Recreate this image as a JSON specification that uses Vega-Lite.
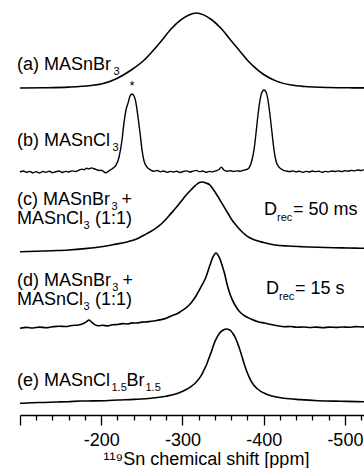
{
"$schema": "https://vega.github.io/schema/vega-lite/v6.json",
"padding": {"left": 16, "top": 0, "right": 0, "bottom": 0},
"spacing": 0,
"bounds": "flush",
"config": {"view": {"stroke": null}, "axis": {"grid": false}, "font": "Liberation Sans"},
"datasets": {
"spectra": [
{"series":"a","ppm":-100,"v":0},{"series":"a","ppm":-130,"v":0.003},{"series":"a","ppm":-160,"v":0.012},{"series":"a","ppm":-187,"v":0.033},{"series":"a","ppm":-200,"v":0.053},{"series":"a","ppm":-218,"v":0.12},{"series":"a","ppm":-237,"v":0.24},{"series":"a","ppm":-253,"v":0.373},{"series":"a","ppm":-264,"v":0.5},{"series":"a","ppm":-274,"v":0.627},{"series":"a","ppm":-286,"v":0.787},{"series":"a","ppm":-298,"v":0.907},{"series":"a","ppm":-308,"v":0.973},{"series":"a","ppm":-317,"v":1.0},{"series":"a","ppm":-326,"v":0.975},{"series":"a","ppm":-336,"v":0.91},{"series":"a","ppm":-348,"v":0.79},{"series":"a","ppm":-360,"v":0.63},{"series":"a","ppm":-370,"v":0.5},{"series":"a","ppm":-380,"v":0.37},{"series":"a","ppm":-390,"v":0.265},{"series":"a","ppm":-400,"v":0.18},{"series":"a","ppm":-415,"v":0.095},{"series":"a","ppm":-434,"v":0.04},{"series":"a","ppm":-450,"v":0.02},{"series":"a","ppm":-480,"v":0.006},{"series":"a","ppm":-510,"v":0.002},{"series":"a","ppm":-558,"v":0},
{"series":"b","ppm":-100,"v":0.0},{"series":"b","ppm":-104,"v":0.012},{"series":"b","ppm":-108,"v":-0.005},{"series":"b","ppm":-112,"v":0.008},{"series":"b","ppm":-116,"v":-0.01},{"series":"b","ppm":-120,"v":0.004},{"series":"b","ppm":-124,"v":-0.012},{"series":"b","ppm":-128,"v":0.006},{"series":"b","ppm":-132,"v":-0.004},{"series":"b","ppm":-136,"v":0.01},{"series":"b","ppm":-140,"v":-0.008},{"series":"b","ppm":-144,"v":0.003},{"series":"b","ppm":-148,"v":0.012},{"series":"b","ppm":-152,"v":-0.006},{"series":"b","ppm":-156,"v":0.008},{"series":"b","ppm":-160,"v":0.0},{"series":"b","ppm":-164,"v":0.014},{"series":"b","ppm":-168,"v":0.006},{"series":"b","ppm":-172,"v":0.02},{"series":"b","ppm":-176,"v":0.035},{"series":"b","ppm":-179,"v":0.028},{"series":"b","ppm":-182,"v":0.045},{"series":"b","ppm":-185,"v":0.038},{"series":"b","ppm":-188,"v":0.05},{"series":"b","ppm":-191,"v":0.04},{"series":"b","ppm":-194,"v":0.03},{"series":"b","ppm":-197,"v":0.018},{"series":"b","ppm":-200,"v":0.022},{"series":"b","ppm":-203,"v":0.005},{"series":"b","ppm":-206,"v":-0.01},{"series":"b","ppm":-209,"v":0.01},{"series":"b","ppm":-212,"v":0.03},{"series":"b","ppm":-215,"v":0.05},{"series":"b","ppm":-218,"v":0.08},{"series":"b","ppm":-221.9,"v":0.18},{"series":"b","ppm":-225.6,"v":0.39},{"series":"b","ppm":-228,"v":0.6},{"series":"b","ppm":-230.5,"v":0.756},{"series":"b","ppm":-233,"v":0.84},{"series":"b","ppm":-235.5,"v":0.927},{"series":"b","ppm":-237.9,"v":0.951},{"series":"b","ppm":-240.4,"v":0.927},{"series":"b","ppm":-242.9,"v":0.835},{"series":"b","ppm":-245.3,"v":0.67},{"series":"b","ppm":-247.8,"v":0.476},{"series":"b","ppm":-250.2,"v":0.27},{"series":"b","ppm":-252.7,"v":0.134},{"series":"b","ppm":-256.4,"v":0.06},{"series":"b","ppm":-261,"v":0.024},{"series":"b","ppm":-265,"v":0.01},{"series":"b","ppm":-269,"v":0.018},{"series":"b","ppm":-273,"v":0.002},{"series":"b","ppm":-277,"v":0.012},{"series":"b","ppm":-281,"v":-0.004},{"series":"b","ppm":-285,"v":0.008},{"series":"b","ppm":-289,"v":0.0},{"series":"b","ppm":-293,"v":0.01},{"series":"b","ppm":-297,"v":-0.006},{"series":"b","ppm":-301,"v":0.006},{"series":"b","ppm":-305,"v":0.014},{"series":"b","ppm":-309,"v":0.0},{"series":"b","ppm":-313,"v":0.01},{"series":"b","ppm":-317,"v":0.02},{"series":"b","ppm":-321,"v":0.004},{"series":"b","ppm":-325,"v":0.012},{"series":"b","ppm":-329,"v":-0.004},{"series":"b","ppm":-333,"v":0.008},{"series":"b","ppm":-337,"v":0.002},{"series":"b","ppm":-341,"v":0.014},{"series":"b","ppm":-345,"v":0.03},{"series":"b","ppm":-348,"v":0.06},{"series":"b","ppm":-351,"v":0.025},{"series":"b","ppm":-355,"v":0.01},{"series":"b","ppm":-359,"v":0.016},{"series":"b","ppm":-363,"v":0.006},{"series":"b","ppm":-367,"v":0.014},{"series":"b","ppm":-371,"v":0.01},{"series":"b","ppm":-374,"v":0.018},{"series":"b","ppm":-377,"v":0.025},{"series":"b","ppm":-381.9,"v":0.05},{"series":"b","ppm":-385.6,"v":0.146},{"series":"b","ppm":-388.1,"v":0.27},{"series":"b","ppm":-390.6,"v":0.476},{"series":"b","ppm":-393,"v":0.695},{"series":"b","ppm":-395.5,"v":0.878},{"series":"b","ppm":-398,"v":0.976},{"series":"b","ppm":-400.4,"v":1.0},{"series":"b","ppm":-402.9,"v":0.976},{"series":"b","ppm":-405.3,"v":0.878},{"series":"b","ppm":-407.8,"v":0.695},{"series":"b","ppm":-410.3,"v":0.476},{"series":"b","ppm":-412.7,"v":0.27},{"series":"b","ppm":-415.2,"v":0.134},{"series":"b","ppm":-418.9,"v":0.06},{"series":"b","ppm":-423.8,"v":0.024},{"series":"b","ppm":-428,"v":0.012},{"series":"b","ppm":-432,"v":0.004},{"series":"b","ppm":-436,"v":0.014},{"series":"b","ppm":-440,"v":0.002},{"series":"b","ppm":-444,"v":0.01},{"series":"b","ppm":-448,"v":-0.004},{"series":"b","ppm":-452,"v":0.008},{"series":"b","ppm":-456,"v":0.0},{"series":"b","ppm":-460,"v":0.012},{"series":"b","ppm":-464,"v":0.004},{"series":"b","ppm":-468,"v":0.01},{"series":"b","ppm":-472,"v":-0.004},{"series":"b","ppm":-476,"v":0.008},{"series":"b","ppm":-480,"v":0.002},{"series":"b","ppm":-484,"v":0.012},{"series":"b","ppm":-488,"v":0.006},{"series":"b","ppm":-492,"v":0.014},{"series":"b","ppm":-496,"v":0.004},{"series":"b","ppm":-500,"v":0.016},{"series":"b","ppm":-504,"v":0.01},{"series":"b","ppm":-508,"v":0.02},{"series":"b","ppm":-512,"v":0.014},{"series":"b","ppm":-516,"v":0.024},{"series":"b","ppm":-520,"v":0.018},{"series":"b","ppm":-524,"v":0.026},{"series":"b","ppm":-530,"v":0.02},{"series":"b","ppm":-540,"v":0.024},{"series":"b","ppm":-558,"v":0.02},
{"series":"c","ppm":-100,"v":-0.025},{"series":"c","ppm":-120,"v":-0.018},{"series":"c","ppm":-140,"v":-0.01},{"series":"c","ppm":-160,"v":0.0},{"series":"c","ppm":-180,"v":0.02},{"series":"c","ppm":-200,"v":0.049},{"series":"c","ppm":-215,"v":0.08},{"series":"c","ppm":-233,"v":0.122},{"series":"c","ppm":-245,"v":0.17},{"series":"c","ppm":-253,"v":0.221},{"series":"c","ppm":-262,"v":0.28},{"series":"c","ppm":-270,"v":0.343},{"series":"c","ppm":-278,"v":0.43},{"series":"c","ppm":-286,"v":0.539},{"series":"c","ppm":-292,"v":0.62},{"series":"c","ppm":-298,"v":0.71},{"series":"c","ppm":-304,"v":0.8},{"series":"c","ppm":-310.5,"v":0.882},{"series":"c","ppm":-315,"v":0.94},{"series":"c","ppm":-319.2,"v":0.98},{"series":"c","ppm":-322,"v":0.996},{"series":"c","ppm":-325.3,"v":1.0},{"series":"c","ppm":-329,"v":0.985},{"series":"c","ppm":-333.9,"v":0.956},{"series":"c","ppm":-338,"v":0.89},{"series":"c","ppm":-342.5,"v":0.809},{"series":"c","ppm":-347,"v":0.72},{"series":"c","ppm":-351.1,"v":0.637},{"series":"c","ppm":-356,"v":0.54},{"series":"c","ppm":-361,"v":0.441},{"series":"c","ppm":-367,"v":0.35},{"series":"c","ppm":-373.3,"v":0.269},{"series":"c","ppm":-380,"v":0.2},{"series":"c","ppm":-389.3,"v":0.147},{"series":"c","ppm":-400,"v":0.11},{"series":"c","ppm":-413.9,"v":0.074},{"series":"c","ppm":-430,"v":0.058},{"series":"c","ppm":-446,"v":0.049},{"series":"c","ppm":-466,"v":0.04},{"series":"c","ppm":-486.6,"v":0.034},{"series":"c","ppm":-505,"v":0.03},{"series":"c","ppm":-525,"v":0.025},{"series":"c","ppm":-558,"v":0.025},
{"series":"d","ppm":-100,"v":-0.004},{"series":"d","ppm":-108,"v":0.008},{"series":"d","ppm":-116,"v":0.0},{"series":"d","ppm":-124,"v":0.012},{"series":"d","ppm":-132,"v":0.004},{"series":"d","ppm":-140,"v":0.016},{"series":"d","ppm":-148,"v":0.024},{"series":"d","ppm":-156,"v":0.02},{"series":"d","ppm":-164,"v":0.034},{"series":"d","ppm":-172,"v":0.04},{"series":"d","ppm":-178,"v":0.06},{"series":"d","ppm":-182,"v":0.085},{"series":"d","ppm":-185,"v":0.107},{"series":"d","ppm":-188,"v":0.08},{"series":"d","ppm":-192,"v":0.045},{"series":"d","ppm":-197,"v":0.03},{"series":"d","ppm":-202,"v":0.036},{"series":"d","ppm":-208,"v":0.028},{"series":"d","ppm":-214,"v":0.044},{"series":"d","ppm":-220,"v":0.046},{"series":"d","ppm":-226,"v":0.058},{"series":"d","ppm":-232,"v":0.054},{"series":"d","ppm":-238,"v":0.068},{"series":"d","ppm":-244,"v":0.066},{"series":"d","ppm":-250,"v":0.078},{"series":"d","ppm":-256,"v":0.082},{"series":"d","ppm":-262,"v":0.09},{"series":"d","ppm":-268,"v":0.1},{"series":"d","ppm":-274,"v":0.112},{"series":"d","ppm":-280,"v":0.13},{"series":"d","ppm":-286,"v":0.16},{"series":"d","ppm":-291,"v":0.18},{"series":"d","ppm":-295,"v":0.2},{"series":"d","ppm":-300,"v":0.235},{"series":"d","ppm":-304.4,"v":0.267},{"series":"d","ppm":-310.5,"v":0.333},{"series":"d","ppm":-316.7,"v":0.427},{"series":"d","ppm":-322.9,"v":0.547},{"series":"d","ppm":-329,"v":0.68},{"series":"d","ppm":-333.9,"v":0.84},{"series":"d","ppm":-337.6,"v":0.947},{"series":"d","ppm":-341.3,"v":1.0},{"series":"d","ppm":-345,"v":0.947},{"series":"d","ppm":-348.7,"v":0.84},{"series":"d","ppm":-352,"v":0.72},{"series":"d","ppm":-355,"v":0.58},{"series":"d","ppm":-358,"v":0.47},{"series":"d","ppm":-361,"v":0.385},{"series":"d","ppm":-364,"v":0.32},{"series":"d","ppm":-368,"v":0.25},{"series":"d","ppm":-372,"v":0.2},{"series":"d","ppm":-377,"v":0.16},{"series":"d","ppm":-384.4,"v":0.12},{"series":"d","ppm":-393,"v":0.084},{"series":"d","ppm":-401,"v":0.066},{"series":"d","ppm":-409,"v":0.047},{"series":"d","ppm":-417,"v":0.03},{"series":"d","ppm":-425,"v":0.017},{"series":"d","ppm":-433,"v":0.02},{"series":"d","ppm":-441,"v":0.01},{"series":"d","ppm":-449,"v":0.014},{"series":"d","ppm":-457,"v":0.006},{"series":"d","ppm":-465,"v":0.012},{"series":"d","ppm":-473,"v":0.004},{"series":"d","ppm":-481,"v":0.012},{"series":"d","ppm":-489,"v":0.008},{"series":"d","ppm":-497,"v":0.014},{"series":"d","ppm":-505,"v":0.01},{"series":"d","ppm":-513,"v":0.018},{"series":"d","ppm":-521,"v":0.014},{"series":"d","ppm":-530,"v":0.018},{"series":"d","ppm":-558,"v":0.017},
{"series":"e","ppm":-100,"v":-0.018},{"series":"e","ppm":-115,"v":-0.01},{"series":"e","ppm":-130,"v":-0.006},{"series":"e","ppm":-145,"v":0.0},{"series":"e","ppm":-159,"v":0.004},{"series":"e","ppm":-175,"v":0.014},{"series":"e","ppm":-190,"v":0.015},{"series":"e","ppm":-205,"v":0.018},{"series":"e","ppm":-220.7,"v":0.027},{"series":"e","ppm":-240,"v":0.036},{"series":"e","ppm":-261.3,"v":0.051},{"series":"e","ppm":-280,"v":0.08},{"series":"e","ppm":-294.5,"v":0.119},{"series":"e","ppm":-303,"v":0.16},{"series":"e","ppm":-310.5,"v":0.21},{"series":"e","ppm":-315,"v":0.25},{"series":"e","ppm":-319.2,"v":0.3},{"series":"e","ppm":-323,"v":0.36},{"series":"e","ppm":-326.5,"v":0.438},{"series":"e","ppm":-330,"v":0.52},{"series":"e","ppm":-332.7,"v":0.603},{"series":"e","ppm":-336,"v":0.7},{"series":"e","ppm":-338.8,"v":0.795},{"series":"e","ppm":-342,"v":0.875},{"series":"e","ppm":-345,"v":0.932},{"series":"e","ppm":-347.5,"v":0.965},{"series":"e","ppm":-349.9,"v":0.982},{"series":"e","ppm":-352.5,"v":0.996},{"series":"e","ppm":-354.9,"v":1.0},{"series":"e","ppm":-357.5,"v":0.99},{"series":"e","ppm":-359.8,"v":0.973},{"series":"e","ppm":-362,"v":0.94},{"series":"e","ppm":-364.7,"v":0.89},{"series":"e","ppm":-367,"v":0.83},{"series":"e","ppm":-369.6,"v":0.753},{"series":"e","ppm":-372,"v":0.67},{"series":"e","ppm":-374.6,"v":0.575},{"series":"e","ppm":-377,"v":0.49},{"series":"e","ppm":-379.5,"v":0.411},{"series":"e","ppm":-382,"v":0.345},{"series":"e","ppm":-384.4,"v":0.288},{"series":"e","ppm":-388,"v":0.23},{"series":"e","ppm":-391.8,"v":0.185},{"series":"e","ppm":-396,"v":0.15},{"series":"e","ppm":-400.4,"v":0.123},{"series":"e","ppm":-406,"v":0.097},{"series":"e","ppm":-412.7,"v":0.075},{"series":"e","ppm":-425,"v":0.051},{"series":"e","ppm":-445,"v":0.032},{"series":"e","ppm":-466.9,"v":0.018},{"series":"e","ppm":-495,"v":0.01},{"series":"e","ppm":-524.8,"v":0.004},{"series":"e","ppm":-558,"v":0.004}
],
"labels": [
{"panel":"a","kind":"main","x":-96.3,"y":0.24,"text":"(a) MASnBr"},
{"panel":"a","kind":"sub","x":-215.2,"y":0.173,"text":"3"},
{"panel":"b","kind":"main","x":-96.3,"y":0.317,"text":"(b) MASnCl"},
{"panel":"b","kind":"sub","x":-214.0,"y":0.256,"text":"3"},
{"panel":"b","kind":"star","x":-237.9,"y":1.0,"text":"*"},
{"panel":"c","kind":"main","x":-96.3,"y":0.662,"text":"(c) MASnBr"},
{"panel":"c","kind":"sub","x":-212.6,"y":0.588,"text":"3"},
{"panel":"c","kind":"main","x":-225.0,"y":0.662,"text":"+"},
{"panel":"c","kind":"main","x":-96.3,"y":0.382,"text":"MASnCl"},
{"panel":"c","kind":"sub","x":-178.2,"y":0.309,"text":"3"},
{"panel":"c","kind":"main","x":-192.3,"y":0.382,"text":"(1:1)"},
{"panel":"c","kind":"main","x":-400.4,"y":0.515,"text":"D"},
{"panel":"c","kind":"sub","x":-416.4,"y":0.426,"text":"rec"},
{"panel":"c","kind":"main","x":-436.1,"y":0.515,"text":"= 50 ms"},
{"panel":"d","kind":"main","x":-96.3,"y":0.56,"text":"(d) MASnBr"},
{"panel":"d","kind":"sub","x":-213.6,"y":0.493,"text":"3"},
{"panel":"d","kind":"main","x":-226.2,"y":0.56,"text":"+"},
{"panel":"d","kind":"main","x":-96.3,"y":0.307,"text":"MASnCl"},
{"panel":"d","kind":"sub","x":-178.2,"y":0.24,"text":"3"},
{"panel":"d","kind":"main","x":-192.3,"y":0.307,"text":"(1:1)"},
{"panel":"d","kind":"main","x":-402.9,"y":0.453,"text":"D"},
{"panel":"d","kind":"sub","x":-418.9,"y":0.373,"text":"rec"},
{"panel":"d","kind":"main","x":-438.6,"y":0.453,"text":"= 15 s"},
{"panel":"e","kind":"main","x":-96.3,"y":0.219,"text":"(e) MASnCl"},
{"panel":"e","kind":"sub","x":-212.6,"y":0.151,"text":"1.5"},
{"panel":"e","kind":"main","x":-231.1,"y":0.219,"text":"Br"},
{"panel":"e","kind":"sub","x":-254.5,"y":0.151,"text":"1.5"}
]
},
"vconcat": [
{"width":372,"height":90,"layer":[
 {"data":{"name":"spectra"},"transform":[{"filter":"datum.series=='a'"}],"mark":{"type":"line","color":"#000","strokeWidth":1.6,"interpolate":"monotone"},
  "encoding":{"x":{"field":"ppm","type":"quantitative","scale":{"domain":[-100,-558],"nice":false,"zero":false},"axis":null},"y":{"field":"v","type":"quantitative","scale":{"domain":[-0.0267,1.1733],"nice":false,"zero":false},"axis":null}}},
 {"data":{"name":"labels"},"transform":[{"filter":"datum.panel=='a' && datum.kind=='main'"}],"mark":{"type":"text","align":"left","baseline":"alphabetic","fontSize":18,"font":"Liberation Sans","color":"#000"},
  "encoding":{"x":{"field":"x","type":"quantitative","scale":{"domain":[-100,-558],"nice":false,"zero":false},"axis":null},"y":{"field":"y","type":"quantitative","scale":{"domain":[-0.0267,1.1733],"nice":false,"zero":false},"axis":null},"text":{"field":"text"}}},
 {"data":{"name":"labels"},"transform":[{"filter":"datum.panel=='a' && datum.kind=='sub'"}],"mark":{"type":"text","align":"left","baseline":"alphabetic","fontSize":11,"font":"Liberation Sans","color":"#000"},
  "encoding":{"x":{"field":"x","type":"quantitative","scale":{"domain":[-100,-558],"nice":false,"zero":false},"axis":null},"y":{"field":"y","type":"quantitative","scale":{"domain":[-0.0267,1.1733],"nice":false,"zero":false},"axis":null},"text":{"field":"text"}}}
]},
{"width":372,"height":84,"layer":[
 {"data":{"name":"spectra"},"transform":[{"filter":"datum.series=='b'"}],"mark":{"type":"line","color":"#000","strokeWidth":1.4,"interpolate":"monotone"},
  "encoding":{"x":{"field":"ppm","type":"quantitative","scale":{"domain":[-100,-558],"nice":false,"zero":false},"axis":null},"y":{"field":"v","type":"quantitative","scale":{"domain":[-0.0244,1.0],"nice":false,"zero":false},"axis":null}}},
 {"data":{"name":"labels"},"transform":[{"filter":"datum.panel=='b' && datum.kind=='main'"}],"mark":{"type":"text","align":"left","baseline":"alphabetic","fontSize":18,"font":"Liberation Sans","color":"#000"},
  "encoding":{"x":{"field":"x","type":"quantitative","scale":{"domain":[-100,-558],"nice":false,"zero":false},"axis":null},"y":{"field":"y","type":"quantitative","scale":{"domain":[-0.0244,1.0],"nice":false,"zero":false},"axis":null},"text":{"field":"text"}}},
 {"data":{"name":"labels"},"transform":[{"filter":"datum.panel=='b' && datum.kind=='sub'"}],"mark":{"type":"text","align":"left","baseline":"alphabetic","fontSize":11,"font":"Liberation Sans","color":"#000"},
  "encoding":{"x":{"field":"x","type":"quantitative","scale":{"domain":[-100,-558],"nice":false,"zero":false},"axis":null},"y":{"field":"y","type":"quantitative","scale":{"domain":[-0.0244,1.0],"nice":false,"zero":false},"axis":null},"text":{"field":"text"}}},
 {"data":{"name":"labels"},"transform":[{"filter":"datum.panel=='b' && datum.kind=='star'"}],"mark":{"type":"text","align":"center","baseline":"alphabetic","fontSize":13,"font":"Liberation Sans","color":"#000"},
  "encoding":{"x":{"field":"x","type":"quantitative","scale":{"domain":[-100,-558],"nice":false,"zero":false},"axis":null},"y":{"field":"y","type":"quantitative","scale":{"domain":[-0.0244,1.0],"nice":false,"zero":false},"axis":null},"text":{"field":"text"}}}
]},
{"width":372,"height":78,"layer":[
 {"data":{"name":"spectra"},"transform":[{"filter":"datum.series=='c'"}],"mark":{"type":"line","color":"#000","strokeWidth":1.6,"interpolate":"monotone"},
  "encoding":{"x":{"field":"ppm","type":"quantitative","scale":{"domain":[-100,-558],"nice":false,"zero":false},"axis":null},"y":{"field":"v","type":"quantitative","scale":{"domain":[-0.0294,1.1176],"nice":false,"zero":false},"axis":null}}},
 {"data":{"name":"labels"},"transform":[{"filter":"datum.panel=='c' && datum.kind=='main'"}],"mark":{"type":"text","align":"left","baseline":"alphabetic","fontSize":18,"font":"Liberation Sans","color":"#000"},
  "encoding":{"x":{"field":"x","type":"quantitative","scale":{"domain":[-100,-558],"nice":false,"zero":false},"axis":null},"y":{"field":"y","type":"quantitative","scale":{"domain":[-0.0294,1.1176],"nice":false,"zero":false},"axis":null},"text":{"field":"text"}}},
 {"data":{"name":"labels"},"transform":[{"filter":"datum.panel=='c' && datum.kind=='sub'"}],"mark":{"type":"text","align":"left","baseline":"alphabetic","fontSize":11,"font":"Liberation Sans","color":"#000"},
  "encoding":{"x":{"field":"x","type":"quantitative","scale":{"domain":[-100,-558],"nice":false,"zero":false},"axis":null},"y":{"field":"y","type":"quantitative","scale":{"domain":[-0.0294,1.1176],"nice":false,"zero":false},"axis":null},"text":{"field":"text"}}}
]},
{"width":372,"height":78,"layer":[
 {"data":{"name":"spectra"},"transform":[{"filter":"datum.series=='d'"}],"mark":{"type":"line","color":"#000","strokeWidth":1.6,"interpolate":"monotone"},
  "encoding":{"x":{"field":"ppm","type":"quantitative","scale":{"domain":[-100,-558],"nice":false,"zero":false},"axis":null},"y":{"field":"v","type":"quantitative","scale":{"domain":[-0.0267,1.0133],"nice":false,"zero":false},"axis":null}}},
 {"data":{"name":"labels"},"transform":[{"filter":"datum.panel=='d' && datum.kind=='main'"}],"mark":{"type":"text","align":"left","baseline":"alphabetic","fontSize":18,"font":"Liberation Sans","color":"#000"},
  "encoding":{"x":{"field":"x","type":"quantitative","scale":{"domain":[-100,-558],"nice":false,"zero":false},"axis":null},"y":{"field":"y","type":"quantitative","scale":{"domain":[-0.0267,1.0133],"nice":false,"zero":false},"axis":null},"text":{"field":"text"}}},
 {"data":{"name":"labels"},"transform":[{"filter":"datum.panel=='d' && datum.kind=='sub'"}],"mark":{"type":"text","align":"left","baseline":"alphabetic","fontSize":11,"font":"Liberation Sans","color":"#000"},
  "encoding":{"x":{"field":"x","type":"quantitative","scale":{"domain":[-100,-558],"nice":false,"zero":false},"axis":null},"y":{"field":"y","type":"quantitative","scale":{"domain":[-0.0267,1.0133],"nice":false,"zero":false},"axis":null},"text":{"field":"text"}}}
]},
{"width":372,"height":85,"resolve":{"axis":{"x":"independent"}},"layer":[
 {"data":{"name":"spectra"},"transform":[{"filter":"datum.series=='e'"}],"mark":{"type":"line","color":"#000","strokeWidth":1.6,"interpolate":"monotone"},
  "encoding":{"x":{"field":"ppm","type":"quantitative","scale":{"domain":[-100,-558],"nice":false,"zero":false},
    "axis":{"orient":"bottom","values":[-100,-200,-300,-400,-500],"tickSize":10,"tickWidth":1.3,"tickColor":"#000","domainColor":"#000","domainWidth":1.3,"labelFont":"Liberation Sans","labelFontSize":18,"labelColor":"#000","labelBaseline":"alphabetic","labelPadding":20,"labelFlush":false,"labelOverlap":false,"labelExpr":"datum.value == -100 ? '' : '' + datum.value","title":"¹¹⁹Sn chemical shift [ppm]","titleFont":"Liberation Sans","titleFontSize":18,"titleFontWeight":"normal","titleColor":"#000","titleBaseline":"alphabetic","titleY":49,"grid":false}},
   "y":{"field":"v","type":"quantitative","scale":{"domain":[-0.178,0.986],"nice":false,"zero":false},"axis":null}}},
 {"data":{"name":"labels"},"transform":[{"filter":"datum.panel=='e' && datum.kind=='main'"}],"mark":{"type":"text","align":"left","baseline":"alphabetic","fontSize":18,"font":"Liberation Sans","color":"#000"},
  "encoding":{"x":{"field":"x","type":"quantitative","scale":{"domain":[-100,-558],"nice":false,"zero":false},
    "axis":{"orient":"bottom","values":[-120,-140,-160,-180,-220,-240,-260,-280,-320,-340,-360,-380,-420,-440,-460,-480,-520,-540],"tickSize":5,"tickWidth":1.3,"tickColor":"#000","domain":false,"labels":false,"title":null,"grid":false}},
   "y":{"field":"y","type":"quantitative","scale":{"domain":[-0.178,0.986],"nice":false,"zero":false},"axis":null},"text":{"field":"text"}}},
 {"data":{"name":"labels"},"transform":[{"filter":"datum.panel=='e' && datum.kind=='sub'"}],"mark":{"type":"text","align":"left","baseline":"alphabetic","fontSize":11,"font":"Liberation Sans","color":"#000"},
  "encoding":{"x":{"field":"x","type":"quantitative","scale":{"domain":[-100,-558],"nice":false,"zero":false},"axis":null},"y":{"field":"y","type":"quantitative","scale":{"domain":[-0.178,0.986],"nice":false,"zero":false},"axis":null},"text":{"field":"text"}}}
]}
]
}
